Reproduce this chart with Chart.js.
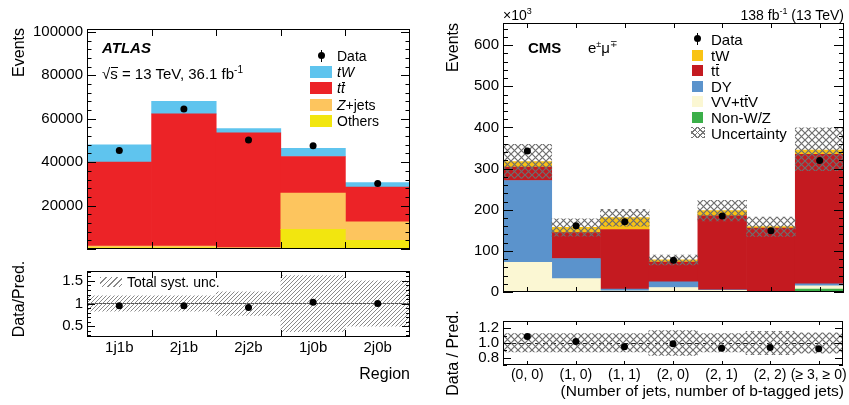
<!DOCTYPE html>
<html>
<head>
<meta charset="utf-8">
<script src="https://cdn.jsdelivr.net/npm/chart.js@4.4.1/dist/chart.umd.min.js"></script>
<style>
  body { margin: 0; background: #fff; width: 849px; height: 405px; overflow: hidden; position: relative;
         font-family: 'Liberation Sans', Arial, Helvetica, sans-serif; color: #000; }
  canvas { position: absolute; }
  .t { position: absolute; white-space: nowrap; line-height: 1; z-index: 2; }
  .vt { position: absolute; white-space: nowrap; line-height: 1; writing-mode: vertical-rl; z-index: 2; }
  .sw { position: absolute; z-index: 2; }
  .ov { position: relative; }
  .ov::after { content: ''; position: absolute; left: 0.08em; right: 0; top: 0.14em; border-top: 1px solid #000; }
  .dot { position: absolute; width: 7px; height: 7px; border-radius: 50%; background: #000; z-index: 2; }
  .bar { position: absolute; width: 1px; background: #000; z-index: 2; }
</style>
</head>
<body>
<canvas id="atlasMain" width="420" height="262" style="left:0;top:0"></canvas>
<canvas id="atlasRatio" width="420" height="100" style="left:0;top:258px"></canvas>
<canvas id="cmsMain" width="429" height="305" style="left:420px;top:0"></canvas>
<canvas id="cmsRatio" width="429" height="97" style="left:420px;top:308px"></canvas>

<!-- ATLAS labels -->
<div class="vt" style="left:11px;top:28px;font-size:16px;transform:rotate(180deg)">Events</div>
<div class="vt" style="left:11px;top:299px;font-size:16px;transform:translateY(-50%) rotate(180deg)">Data/Pred.</div>
<div class="t" style="right:439px;top:366px;font-size:16px">Region</div>
<div class="t" style="left:102px;top:40px;font-size:15px;font-weight:bold;font-style:italic">ATLAS</div>
<div class="t" style="left:102px;top:65px;font-size:15px">√<span class="ov">s</span> = 13 TeV, 36.1 fb<sup style="font-size:10px">-1</sup></div>

<div class="bar" style="left:321px;top:50px;height:12px"></div>
<div class="dot" style="left:318px;top:52px"></div>
<div class="t" style="left:337px;top:49px;font-size:14px">Data</div>
<div class="sw" style="left:310px;top:66px;width:22px;height:12px;background:#5fc4ee"></div>
<div class="t" style="left:337px;top:65px;font-size:14px"><i>tW</i></div>
<div class="sw" style="left:310px;top:82px;width:22px;height:12px;background:#ec2327"></div>
<div class="t" style="left:337px;top:81px;font-size:14px"><i>t</i><i class="ov">t</i></div>
<div class="sw" style="left:310px;top:99px;width:22px;height:12px;background:#fdc55e"></div>
<div class="t" style="left:337px;top:98px;font-size:14px"><i>Z</i>+jets</div>
<div class="sw" style="left:310px;top:115px;width:22px;height:12px;background:#f2e60f"></div>
<div class="t" style="left:337px;top:114px;font-size:14px">Others</div>

<div class="sw" style="left:100px;top:277px;width:22px;height:10px;background:repeating-linear-gradient(135deg,#888 0 1px,transparent 1px 4px)"></div>
<div class="t" style="left:127px;top:275px;font-size:14px">Total syst. unc.</div>

<!-- CMS labels -->
<div class="vt" style="left:445px;top:23px;font-size:16px;transform:rotate(180deg)">Events</div>
<div class="vt" style="left:445px;top:353px;font-size:16px;transform:translateY(-50%) rotate(180deg)">Data / Pred.</div>
<div class="t" style="right:5px;top:383px;font-size:15.5px">(Number of jets, number of b-tagged jets)</div>
<div class="t" style="left:503px;top:7px;font-size:14px">×10<sup style="font-size:9px">3</sup></div>
<div class="t" style="right:5px;top:7px;font-size:14px">138 fb<sup style="font-size:9px">-1</sup> (13 TeV)</div>
<div class="t" style="left:528px;top:40px;font-size:15px;font-weight:bold">CMS</div>
<div class="t" style="left:588px;top:40px;font-size:15px">e<sup style="font-size:9px">±</sup>μ<sup style="font-size:9px">∓</sup></div>

<div class="bar" style="left:697px;top:33px;height:12px"></div>
<div class="dot" style="left:694px;top:35px"></div>
<div class="t" style="left:711px;top:32px;font-size:15px">Data</div>
<div class="sw" style="left:692px;top:50px;width:11px;height:11px;background:#f9c314"></div>
<div class="t" style="left:711px;top:48px;font-size:15px">tW</div>
<div class="sw" style="left:692px;top:65px;width:11px;height:11px;background:#c41a20"></div>
<div class="t" style="left:711px;top:63px;font-size:15px">t<span class="ov">t</span></div>
<div class="sw" style="left:692px;top:81px;width:11px;height:11px;background:#5b93cc"></div>
<div class="t" style="left:711px;top:79px;font-size:15px">DY</div>
<div class="sw" style="left:692px;top:96px;width:11px;height:11px;background:#fbf7d3"></div>
<div class="t" style="left:711px;top:94px;font-size:15px">VV+t<span class="ov">t</span>V</div>
<div class="sw" style="left:692px;top:112px;width:11px;height:11px;background:#3baf49"></div>
<div class="t" style="left:711px;top:110px;font-size:15px">Non-W/Z</div>
<div class="sw" style="left:691px;top:127px;width:14px;height:11px;background:repeating-linear-gradient(45deg,#777 0 1px,transparent 1px 4px),repeating-linear-gradient(135deg,#777 0 1px,transparent 1px 4px)"></div>
<div class="t" style="left:711px;top:126px;font-size:15px">Uncertainty</div>

<script>
// ATLAS, events per region
const atlasRegions = ['1j1b', '2j1b', '2j2b', '1j0b', '2j0b'];
const atlasOthers = [700, 700, 300, 9000, 4000];
const atlasZjets = [700, 700, 300, 16800, 8500];
const atlasTtbar = [38600, 60800, 52900, 16800, 16000];
const atlasTW = [8000, 5800, 2000, 3700, 2100];
const atlasData = [45300, 64500, 50200, 47500, 30200];
const atlasRatio = [0.95, 0.95, 0.91, 1.03, 1.0];
const atlasSystLo = [0.83, 0.83, 0.74, 0.38, 0.5];
const atlasSystHi = [1.17, 1.17, 1.26, 1.62, 1.5];
const atlasYTicks = [20000, 40000, 60000, 80000, 100000];
const atlasRatioTicks = [0.5, 1, 1.5];

// CMS, events in thousands
const cmsBins = ['(0, 0)', '(1, 0)', '(1, 1)', '(2, 0)', '(2, 1)', '(2, 2)', '(≥ 3, ≥ 0)'];
const cmsNonWZ = [1, 0.5, 0.5, 0.5, 1.5, 0.3, 7];
const cmsVV = [71, 32, 2.5, 10.5, 2.5, 0.7, 8];
const cmsDY = [199, 49, 4, 13.5, 1, 0.5, 5];
const cmsTtbar = [33, 63, 145, 48, 180, 154, 315];
const cmsTW = [13, 13, 29, 5.5, 13, 3.5, 10];
const cmsUncLo = [276, 136, 160, 66, 173, 135, 295];
const cmsUncHi = [359, 178, 201, 90, 223, 182, 399];
const cmsData = [343, 161, 171, 77, 185, 149, 320];
const cmsRatio = [1.09, 1.02, 0.95, 0.99, 0.93, 0.94, 0.92];
const cmsRatioLo = [0.88, 0.88, 0.88, 0.83, 0.88, 0.84, 0.86];
const cmsRatioHi = [1.13, 1.13, 1.13, 1.17, 1.13, 1.16, 1.14];
const cmsYTicks = [0, 100, 200, 300, 400, 500, 600];
const cmsRatioTicks = [0.8, 1.0, 1.2];

Chart.defaults.font.family = "'Liberation Sans', Arial, Helvetica, sans-serif";
Chart.defaults.color = '#000';

function hatch(size, color, width, cross) {
  const c = document.createElement('canvas');
  c.width = c.height = size;
  const g = c.getContext('2d');
  g.strokeStyle = color;
  g.lineWidth = width;
  g.beginPath();
  g.moveTo(-1, size + 1); g.lineTo(size + 1, -1);
  if (cross) { g.moveTo(-1, -1); g.lineTo(size + 1, size + 1); }
  g.stroke();
  return g.createPattern(c, 'repeat');
}

// ROOT style frame: box with inward ticks on all four sides
const rootFrame = {
  id: 'rootFrame',
  afterDatasetsDraw(chart, args, o) {
    const { ctx, chartArea: a, scales: { x, y } } = chart;
    ctx.save();
    ctx.strokeStyle = '#000';
    ctx.lineWidth = 1;
    ctx.beginPath();
    const first = Math.ceil(y.min / o.yMinor - 1e-6);
    const last = Math.floor(y.max / o.yMinor + 1e-6);
    for (let k = first; k <= last; k++) {
      const v = k * o.yMinor;
      const r = v / o.yMajor;
      const len = Math.abs(r - Math.round(r)) < 1e-6 ? o.yLen : o.yLen / 2;
      const py = Math.round(y.getPixelForValue(v)) + 0.5;
      ctx.moveTo(a.left, py); ctx.lineTo(a.left + len, py);
      ctx.moveTo(a.right, py); ctx.lineTo(a.right - len, py);
    }
    const n = x.getLabels().length;
    for (let i = 0; i < n; i++) {
      let px;
      if (o.xEdges) {
        if (i === 0) continue;
        px = (x.getPixelForValue(i - 1) + x.getPixelForValue(i)) / 2;
      } else {
        px = x.getPixelForValue(i);
      }
      px = Math.round(px) + 0.5;
      ctx.moveTo(px, a.bottom); ctx.lineTo(px, a.bottom - o.xLen);
      ctx.moveTo(px, a.top); ctx.lineTo(px, a.top + o.xLen);
    }
    ctx.stroke();
    ctx.strokeRect(Math.round(a.left) + 0.5, Math.round(a.top) + 0.5,
      Math.round(a.right - a.left) - 1, Math.round(a.bottom - a.top) - 1);
    ctx.restore();
  }
};

function baseOptions(padding, frame, scales) {
  return {
    responsive: false,
    animation: false,
    events: [],
    layout: { padding },
    plugins: { legend: { display: false }, tooltip: { enabled: false }, rootFrame: frame },
    datasets: { bar: { barPercentage: 1, categoryPercentage: 1, borderWidth: 0 } },
    scales
  };
}

function yAxis(min, max, ticks, width, fmt, grid) {
  return {
    min, max, stacked: true,
    border: { display: false },
    grid: grid || { display: false, drawTicks: false },
    ticks: { font: { size: 15 }, padding: 4, callback: fmt },
    afterBuildTicks: s => { s.ticks = ticks.map(v => ({ value: v })); },
    afterFit: s => { s.width = width; }
  };
}

function xLabels(height, padding, size) {
  return {
    stacked: true, offset: true,
    border: { display: false },
    grid: { display: false, drawTicks: false },
    ticks: { font: { size }, padding, autoSkip: false, maxRotation: 0, minRotation: 0 },
    afterFit: s => { s.height = height; }
  };
}

function points(data) {
  return { type: 'line', data, showLine: false, pointRadius: 3.5, pointBorderWidth: 0,
           pointBackgroundColor: '#000', stack: 'data' };
}

function band(lo, hi, pattern) {
  return { data: lo.map((v, i) => [v, hi[i]]), backgroundColor: pattern, stack: 'unc', grouped: false };
}

const diag = hatch(4, '#8a8a8a', 1, false);
const cross = hatch(7, '#6e6e6e', 1.2, true);

new Chart(document.getElementById('atlasMain'), {
  type: 'bar',
  data: {
    labels: atlasRegions,
    datasets: [
      points(atlasData),
      { data: atlasOthers, backgroundColor: '#f2e60f', stack: 'mc' },
      { data: atlasZjets, backgroundColor: '#fdc55e', stack: 'mc' },
      { data: atlasTtbar, backgroundColor: '#ec2327', stack: 'mc' },
      { data: atlasTW, backgroundColor: '#5fc4ee', stack: 'mc' }
    ]
  },
  options: baseOptions({ top: 29, right: 10, bottom: 5, left: 0 },
    { yMajor: 20000, yMinor: 4000, yLen: 9, xLen: 7, xEdges: true },
    {
      x: { display: false, stacked: true, offset: true },
      y: yAxis(0, 101300, atlasYTicks, 87, v => String(v))
    }),
  plugins: [rootFrame]
});

new Chart(document.getElementById('atlasRatio'), {
  type: 'bar',
  data: {
    labels: atlasRegions,
    datasets: [points(atlasRatio), band(atlasSystLo, atlasSystHi, diag)]
  },
  options: baseOptions({ top: 6, right: 10, bottom: 0, left: 0 },
    { yMajor: 0.5, yMinor: 0.1, yLen: 8, xLen: 7, xEdges: true },
    {
      x: xLabels(21, 2, 15),
      y: yAxis(0.26, 1.72, atlasRatioTicks, 87, v => String(v),
        { drawTicks: false, lineWidth: 1, color: c => (c.tick && c.tick.value === 1 ? '#555' : 'rgba(0,0,0,0)') })
    }),
  plugins: [rootFrame]
});

new Chart(document.getElementById('cmsMain'), {
  type: 'bar',
  data: {
    labels: cmsBins,
    datasets: [
      points(cmsData),
      band(cmsUncLo, cmsUncHi, cross),
      { data: cmsNonWZ, backgroundColor: '#3baf49', stack: 'mc' },
      { data: cmsVV, backgroundColor: '#fbf7d3', stack: 'mc' },
      { data: cmsDY, backgroundColor: '#5b93cc', stack: 'mc' },
      { data: cmsTtbar, backgroundColor: '#c41a20', stack: 'mc' },
      { data: cmsTW, backgroundColor: '#f9c314', stack: 'mc' }
    ]
  },
  options: baseOptions({ top: 23, right: 5, bottom: 5, left: 0 },
    { yMajor: 100, yMinor: 20, yLen: 10, xLen: 5, xEdges: false },
    {
      x: { display: false, stacked: true, offset: true },
      y: yAxis(0, 654, cmsYTicks, 83, v => String(v))
    }),
  plugins: [rootFrame]
});

new Chart(document.getElementById('cmsRatio'), {
  type: 'bar',
  data: {
    labels: cmsBins,
    datasets: [points(cmsRatio), band(cmsRatioLo, cmsRatioHi, cross)]
  },
  options: baseOptions({ top: 5, right: 5, bottom: 0, left: 0 },
    { yMajor: 0.2, yMinor: 0.1, yLen: 8, xLen: 4, xEdges: false },
    {
      x: xLabels(40, 2, 14),
      y: Object.assign(yAxis(0.7, 1.3, cmsRatioTicks, 83, v => v.toFixed(1),
        { drawTicks: false, lineWidth: 1, color: c => (c.tick && Math.abs(c.tick.value - 1) < 1e-9 ? '#222' : 'rgba(0,0,0,0)') }),
        { border: { display: false, dash: [5, 3] } })
    }),
  plugins: [rootFrame]
});
</script>
</body>
</html>
